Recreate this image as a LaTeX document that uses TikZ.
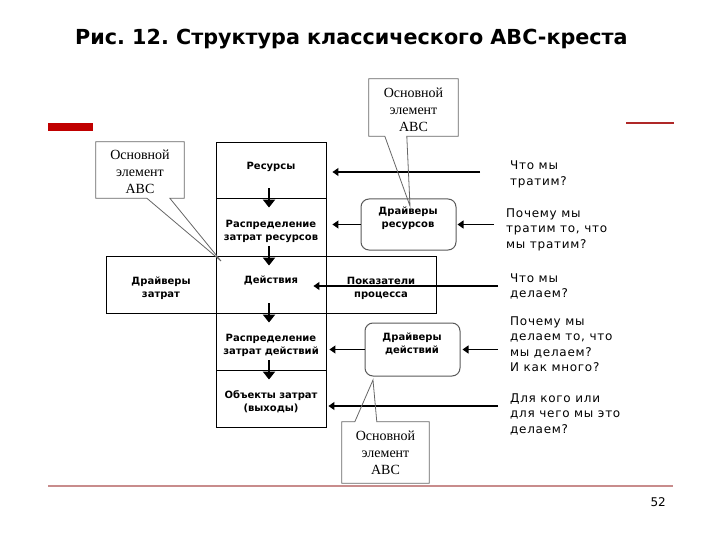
\documentclass[tikz,border=0pt]{standalone}
\usepackage{fontspec}
\setmainfont{DejaVu Sans}
\newfontfamily\abcserif{Liberation Serif}
\newfontfamily\qfont[LetterSpace=6]{DejaVu Sans}
\usetikzlibrary{arrows.meta,calc}
\definecolor{barred}{RGB}{192,0,0}
\definecolor{rulered}{RGB}{200,140,140}
\definecolor{thinred}{RGB}{175,40,40}
\frenchspacing
\begin{document}
\begin{tikzpicture}[x=1pt,y=-1pt,
  cell/.style={draw=black, line width=0.9pt, inner sep=0pt},
  btext/.style={font=\fontsize{10}{13}\selectfont\bfseries, align=center, inner sep=0pt},
  rbox/.style={draw=black!65, line width=1pt, rounded corners=8pt, inner sep=0pt},
  qtext/.style={font=\qfont\fontsize{12}{15.5}\selectfont, align=left, anchor=base west, inner sep=0pt},
  ctext/.style={font=\abcserif\fontsize{14}{17}\selectfont, align=center, inner sep=0pt},
  cframe/.style={draw=black!60, line width=0.8pt},
  harr/.style={draw=black, line width=1.1pt, -{Triangle[length=6pt,width=8pt]}},
  varr/.style={draw=black, line width=2.6pt, -{Triangle[length=8pt,width=12pt]}},
]
\useasboundingbox (0,0) rectangle (720,540);

% title and decorations
\node[anchor=base west, inner sep=0pt, font=\fontsize{20.7}{24}\selectfont\bfseries] (title) at (75,45) {Рис. 12. Структура классического ABC-креста};
\fill[barred] (48,123) rectangle (93,131);
\draw[thinred, line width=1.2pt] (626,123) -- (674,123);
\draw[rulered, line width=2.2pt] (48,486) -- (673,486);
\node[anchor=base east, inner sep=0pt, font=\fontsize{12}{14}\selectfont] (pg) at (666,506) {52};

% main cross
\node[cell, minimum width=110pt, minimum height=56pt] (res) at (271,170) {};
\node[cell, minimum width=110pt, minimum height=58pt] (rdist) at (271,227) {};
\node[cell, minimum width=110pt, minimum height=57pt] (act) at (271,284.5) {};
\node[cell, minimum width=110pt, minimum height=57pt] (drz) at (161,284.5) {};
\node[cell, minimum width=110pt, minimum height=57pt] (pok) at (381,284.5) {};
\node[cell, minimum width=110pt, minimum height=57pt] (adist) at (271,341.5) {};
\node[cell, minimum width=110pt, minimum height=57pt] (obj) at (271,398.5) {};

\node[btext] (res-t) at (271,167) {Ресурсы};
\node[btext] (rdist-t) at (271,231) {Распределение\\затрат ресурсов};
\node[btext] (act-t) at (271,280) {Действия};
\node[btext] (drz-t) at (161,288) {Драйверы\\затрат};
\node[btext] (pok-t) at (381,288.5) {Показатели\\процесса};
\node[btext] (adist-t) at (271,345) {Распределение\\затрат действий};
\node[btext] (obj-t) at (271,402) {Объекты затрат\\(выходы)};

% driver boxes
\node[rbox, minimum width=95pt, minimum height=51pt] (dres) at (408.5,224.5) {};
\node[btext] (dres-t) at (408,218.5) {Драйверы\\ресурсов};
\node[rbox, minimum width=95pt, minimum height=53pt] (dact) at (412.5,349.5) {};
\node[btext] (dact-t) at (412,344) {Драйверы\\действий};

% vertical arrows
\draw[varr] ([xshift=-2pt,yshift=10pt]res.south) -- ([xshift=-2pt,yshift=-10pt]rdist.north);
\draw[varr] ([xshift=-2pt,yshift=10pt]rdist.south) -- ([xshift=-2pt,yshift=-10pt]act.north);
\draw[varr] ([xshift=-2pt,yshift=10pt]act.south) -- ([xshift=-2pt,yshift=-10pt]adist.north);
\draw[varr] ([xshift=-2pt,yshift=10pt]adist.south) -- ([xshift=-2pt,yshift=-10pt]obj.north);

% horizontal arrows
\coordinate (q1s) at (480,172);
\draw[harr] (q1s) -- ($(res.east |- q1s)+(6,0)$);
\draw[harr] (dres.west) -- ($(rdist.east |- dres.west)+(6,0)$);
\coordinate (q2s) at (494,224.5);
\draw[harr] (q2s) -- ($(dres.east)+(1,0)$);
\coordinate (q3s) at (498,286);
\draw[harr] (q3s) -- ($(act.east |- q3s)+(-13,0)$);
\draw[harr] (dact.west) -- ($(adist.east |- dact.west)+(3,0)$);
\coordinate (q4s) at (498,349.5);
\draw[harr] (q4s) -- ($(dact.east)+(2,0)$);
\coordinate (q5s) at (498,406);
\draw[harr] (q5s) -- ($(obj.east |- q5s)+(2,0)$);

% questions (anchor = baseline of last line)
\node[qtext] (q1) at (510,185.5) {Что мы\\тратим?};
\node[qtext] (q2) at (506,248) {Почему мы\\тратим то, что\\мы тратим?};
\node[qtext] (q3) at (510,297.5) {Что мы\\делаем?};
\node[qtext] (q4) at (510,371.5) {Почему мы\\делаем то, что\\мы делаем?\\И как много?};
\node[qtext] (q5) at (510,433) {Для кого или\\для чего мы это\\делаем?};

% callouts
\node[minimum width=88pt, minimum height=56pt, inner sep=0pt] (c1) at (140,170) {};
\node[ctext] (c1-t) at (140,171.5) {Основной\\элемент\\ABC};
\coordinate (c1tip) at (221,261);
\draw[cframe] (c1.north west) -- (c1.north east) -- (c1.south east) -- ($(c1.south west)+(74,0)$) -- (c1tip) -- ($(c1.south west)+(51,0)$) -- (c1.south west) -- cycle;

\node[minimum width=89pt, minimum height=57pt, inner sep=0pt] (c2) at (413.5,107.5) {};
\node[ctext] (c2-t) at (413.5,109.5) {Основной\\элемент\\ABC};
\coordinate (c2tip) at (410,206);
\draw[cframe] (c2.north west) -- (c2.north east) -- (c2.south east) -- ($(c2.south west)+(38,0)$) -- (c2tip) -- ($(c2.south west)+(16,0)$) -- (c2.south west) -- cycle;

\node[minimum width=87pt, minimum height=61pt, inner sep=0pt] (c3) at (385.5,452.5) {};
\node[ctext] (c3-t) at (385.5,452.5) {Основной\\элемент\\ABC};
\coordinate (c3tip) at (373,380);
\draw[cframe] (c3.north west) -- ($(c3.north west)+(13,0)$) -- (c3tip) -- ($(c3.north west)+(35,0)$) -- (c3.north east) -- (c3.south east) -- (c3.south west) -- cycle;
\end{tikzpicture}
\end{document}
